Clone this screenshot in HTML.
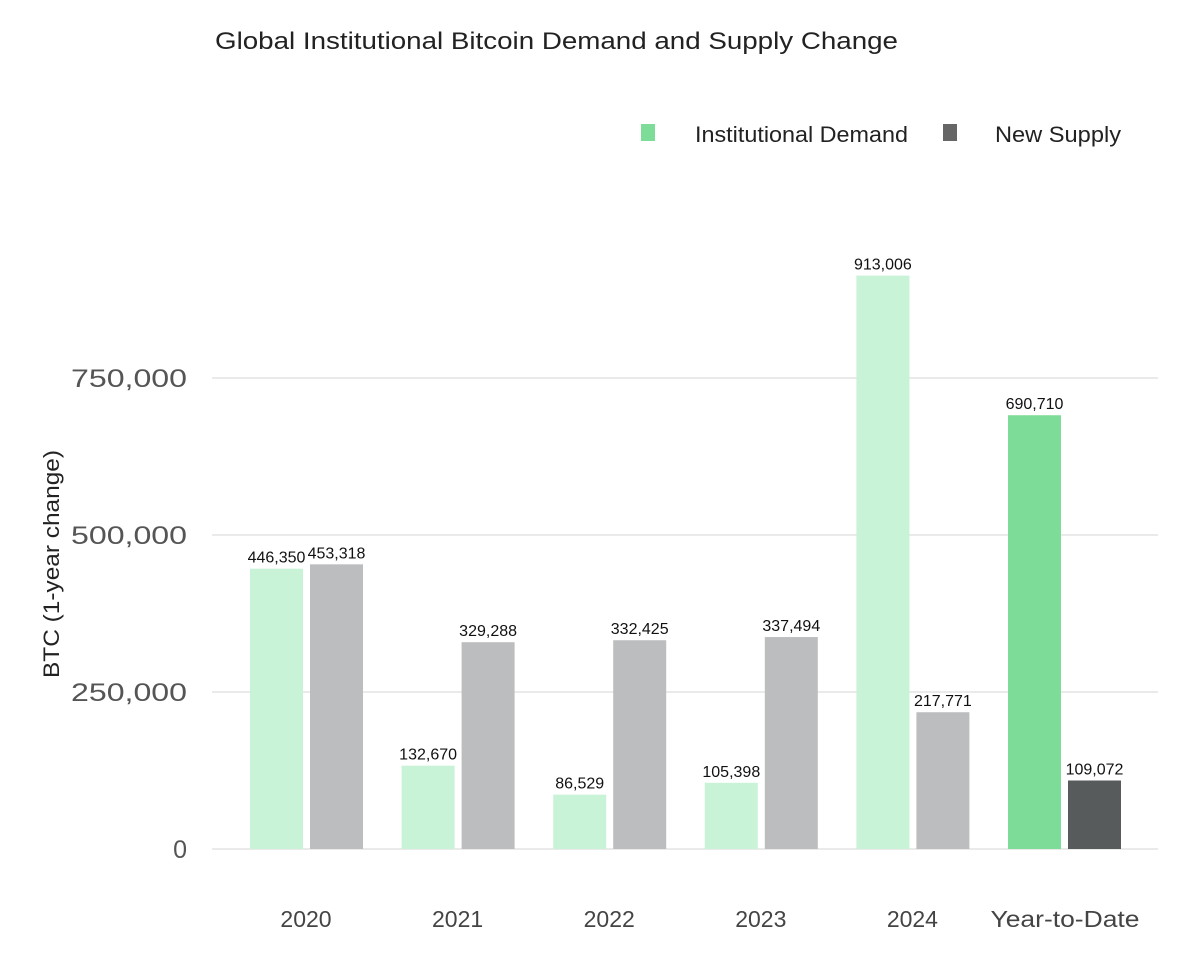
<!DOCTYPE html>
<html><head><meta charset="utf-8"><style>
body{margin:0;background:#fff;}
svg{display:block;font-family:"Liberation Sans",sans-serif;}
</style></head><body>
<svg id="chart" width="1204" height="970" viewBox="0 0 1204 970">
<text x="215" y="49" font-size="24" fill="#222" textLength="683" lengthAdjust="spacingAndGlyphs">Global Institutional Bitcoin Demand and Supply Change</text>
<g>
<rect x="641" y="124" width="14" height="17" fill="#7ddc97"/>
<text x="695" y="142" font-size="22" fill="#222" textLength="213" lengthAdjust="spacingAndGlyphs">Institutional Demand</text>
<rect x="943" y="124" width="14" height="17" fill="#666"/>
<text x="995" y="142" font-size="22" fill="#222" textLength="126" lengthAdjust="spacingAndGlyphs">New Supply</text>
</g>
<text transform="translate(59,564) rotate(-90)" text-anchor="middle" font-size="22" fill="#222" textLength="228" lengthAdjust="spacingAndGlyphs">BTC (1-year change)</text>
<g id="grid"></g><g id="bars"></g>
</svg>
<script>
const categories=["2020","2021","2022","2023","2024","Year-to-Date"];
const demandValues=[446350,132670,86529,105398,913006,690710];
const supplyValues=[453318,329288,332425,337494,217771,109072];
const tickValues=[0,250000,500000,750000];
const tickLabels=["0","250,000","500,000","750,000"];
const ns="http://www.w3.org/2000/svg";
function y(v){return 849-v*471/750000;}
function xc(i){return 306+i*151.6;}
function mk(tag,attrs,parent,txt){const e=document.createElementNS(ns,tag);for(const k in attrs)e.setAttribute(k,attrs[k]);if(txt!==undefined)e.textContent=txt;parent.appendChild(e);return e;}
const grid=document.getElementById('grid'),bars=document.getElementById('bars');
const fmt=v=>v.toLocaleString('en-US');
tickValues.forEach((t,i)=>{
  const l=mk('line',{x1:212,x2:1158,y1:y(t),y2:y(t),stroke:'#e4e4e4','stroke-width':1.5},grid);
  
  
  const tx=mk('text',{x:187,y:y(t)+9,'text-anchor':'end','font-size':25,fill:'#555'},grid,tickLabels[i]);
  if(tickLabels[i].length>1){tx.setAttribute('textLength',116);tx.setAttribute('lengthAdjust','spacingAndGlyphs');}
  
  
});
categories.forEach((c,i)=>{
  const cx=xc(i),ytd=i===categories.length-1;
  const d=mk('rect',{x:cx-56,y:y(demandValues[i]),width:53,height:849-y(demandValues[i]),fill:ytd?'#7ddc97':'#c8f3d6'},bars);
  
  
  const s=mk('rect',{x:cx+4,y:y(supplyValues[i]),width:53,height:849-y(supplyValues[i]),fill:ytd?'#585b5b':'#bcbdbe'},bars);
  
  
  const dl=mk('text',{x:cx-29.5,y:y(demandValues[i])-6,'text-anchor':'middle','font-size':16,fill:'#111'},bars,fmt(demandValues[i]));
  
  
  const sl=mk('text',{x:cx+30.5,y:y(supplyValues[i])-6,'text-anchor':'middle','font-size':16,fill:'#111'},bars,fmt(supplyValues[i]));
  
  
  const cl=mk('text',{x:cx+(ytd?1:0),y:927,'text-anchor':'middle','font-size':23,fill:'#444'},bars,c);
  if(ytd){cl.setAttribute('textLength',149);cl.setAttribute('lengthAdjust','spacingAndGlyphs');}
  
  
});
</script>
</body></html>
